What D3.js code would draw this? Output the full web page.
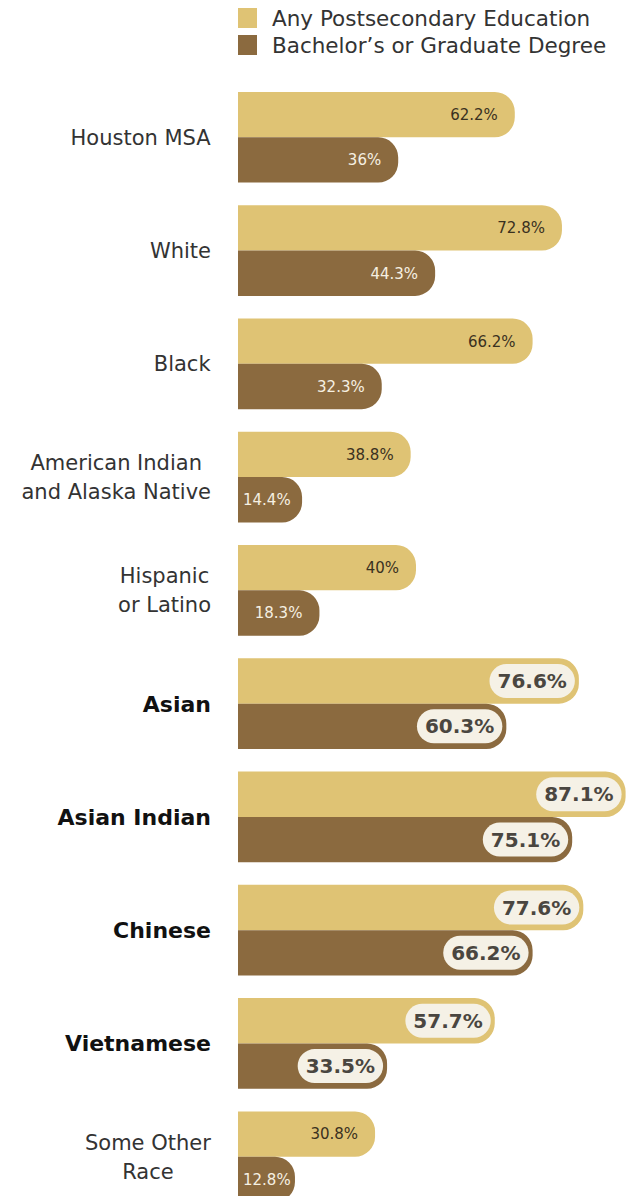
<!DOCTYPE html>
<html>
<head>
<meta charset="utf-8">
<script src="https://cdn.jsdelivr.net/npm/d3@7"></script>
<style>
  html, body { margin: 0; padding: 0; background: #ffffff; }
  svg { display: block; }
  text { font-family: "DejaVu Sans", "Open Sans", sans-serif; }
</style>
</head>
<body>
<svg id="chart" width="632" height="1196"></svg>
<script>
// Educational attainment by race / ethnicity, Houston MSA
const categories = [
  "Houston MSA", "White", "Black", "American Indian and Alaska Native",
  "Hispanic or Latino", "Asian", "Asian Indian", "Chinese", "Vietnamese",
  "Some Other Race"
];
const categoryLines = [
  ["Houston MSA"], ["White"], ["Black"], ["American Indian", "and Alaska Native"],
  ["Hispanic", "or Latino"], ["Asian"], ["Asian Indian"], ["Chinese"], ["Vietnamese"],
  ["Some Other", "Race"]
];
const highlighted = ["Asian", "Asian Indian", "Chinese", "Vietnamese"];
const seriesNames = ["Any Postsecondary Education", "Bachelor\u2019s or Graduate Degree"];
const postsecondary = [62.2, 72.8, 66.2, 38.8, 40, 76.6, 87.1, 77.6, 57.7, 30.8];
const bachelors     = [36, 44.3, 32.3, 14.4, 18.3, 60.3, 75.1, 66.2, 33.5, 12.8];

const colors = ["#dfc374", "#8b6a3f"];
const textOnBar = ["#3a311f", "#f6f0e2"];

const svg = d3.select("#chart");
const x0 = 238;

const x = d3.scaleLinear().domain([0, 100]).range([x0, x0 + 445]);
const y = d3.scaleBand().domain(categories).range([92, 1202]).paddingInner(0.2).paddingOuter(0);
const ySub = d3.scaleBand().domain([0, 1]).range([0, y.bandwidth()]).padding(0);

// bar with square left edge and rounded right end
function barPath(xa, xb, ya, yb, r) {
  const w = xb - xa;
  r = Math.min(r, w, (yb - ya) / 2);
  return `M${xa},${ya}H${xb - r}A${r},${r} 0 0 1 ${xb},${ya + r}V${yb - r}A${r},${r} 0 0 1 ${xb - r},${yb}H${xa}Z`;
}

// legend
const legend = svg.append("g");
seriesNames.forEach((name, i) => {
  legend.append("rect")
    .attr("x", 238).attr("y", 8 + i * 27)
    .attr("width", 19).attr("height", 20)
    .attr("fill", colors[i]);
  legend.append("text")
    .attr("x", 272).attr("y", 26 + i * 27)
    .attr("font-size", 21.5).attr("fill", "#333")
    .text(name);
});

const groups = svg.append("g").selectAll("g")
  .data(categories)
  .join("g")
  .attr("transform", d => `translate(0,${y(d)})`);

// category labels
groups.each(function (cat, i) {
  const g = d3.select(this);
  const bold = highlighted.includes(cat);
  const lines = categoryLines[i];
  const lh = 29;
  const cy = y.bandwidth() / 2;
  const t = g.append("text")
    .attr("font-size", bold ? 22 : 21)
    .attr("font-weight", bold ? "bold" : "normal")
    .attr("fill", bold ? "#111" : "#333")
    .attr("text-anchor", "middle");
  lines.forEach((ln, k) => {
    t.append("tspan")
      .attr("x", 0)
      .attr("y", cy + (k - (lines.length - 1) / 2) * lh)
      .attr("dy", "0.36em")
      .text(ln);
  });
  const w = t.node().getBBox().width;
  t.selectAll("tspan").attr("x", 211 - w / 2);
});

// bars and value labels
groups.each(function (cat, i) {
  const g = d3.select(this);
  const bold = highlighted.includes(cat);
  const vals = [postsecondary[i], bachelors[i]];
  vals.forEach((v, s) => {
    const ya = ySub(s), yb = ya + ySub.bandwidth();
    const xe = x(v);
    g.append("path")
      .attr("d", barPath(x(0), xe, ya, yb, 20))
      .attr("fill", colors[s]);
    const label = `${v}%`;
    const cy = (ya + yb) / 2;
    if (bold) {
      const t = g.append("text")
        .attr("font-size", 20).attr("font-weight", "bold")
        .attr("fill", "#4a4640")
        .attr("text-anchor", "middle")
        .attr("dy", "0.36em")
        .text(label);
      const tw = t.node().getComputedTextLength();
      const pw = tw + 16, ph = 34;
      const pr = xe - 4;
      g.insert("rect", () => t.node())
        .attr("x", pr - pw).attr("y", cy - ph / 2)
        .attr("width", pw).attr("height", ph)
        .attr("rx", ph / 2)
        .attr("fill", "#f5f1e6");
      t.attr("x", pr - pw / 2).attr("y", cy);
    } else {
      const t = g.append("text")
        .attr("font-size", 15)
        .attr("fill", textOnBar[s])
        .attr("text-anchor", "end")
        .attr("dy", "0.36em")
        .attr("y", cy)
        .text(label);
      const tw = t.node().getComputedTextLength();
      t.attr("x", Math.max(xe - 17, x(0) + 5 + tw));
    }
  });
});
</script>
</body>
</html>
